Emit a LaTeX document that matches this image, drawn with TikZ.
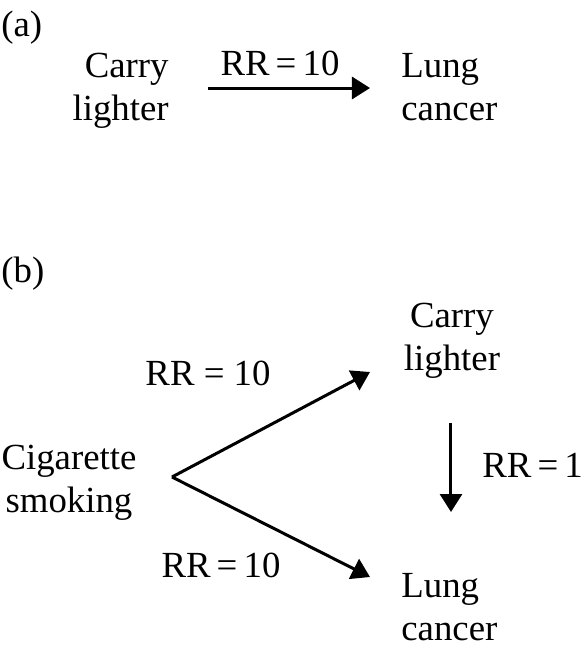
\documentclass[tikz,border=0pt]{standalone}
\usepackage{fontspec}
\setmainfont{Liberation Serif}
\usetikzlibrary{arrows.meta}
\begin{document}
\begin{tikzpicture}[x=0.5pt, y=-0.5pt,
    txt/.style={inner sep=0pt, font=\fontsize{18.4}{21.5}\selectfont},
    arr/.style={line width=1.5pt, -{Triangle[length=9pt, width=11pt]}}]
    \useasboundingbox (0,0) rectangle (588,650);

    % (a)
    \node[txt, anchor=base west] (LabA) at (1,36) {(a)};
    \node[txt, align=right, anchor=base east] (CarryA) at (169,120) {Carry\\lighter};
    \node[txt, align=left, anchor=base west] (CancerA) at (401,120) {Lung\\cancer};
    \coordinate (a1) at (208,88);
    \coordinate (a2) at (370,88);
    \draw[arr] (a1) -- (a2);
    \node[txt, anchor=base] (rrA) at (280,75) {RR\,=\,10};

    % (b)
    \node[txt, anchor=base west] (LabB) at (1,282) {(b)};
    \node[txt, align=center, anchor=base] (Smoke) at (69,512) {Cigarette\\smoking};
    \node[txt, align=center, anchor=base] (CarryB) at (452,370) {Carry\\lighter};
    \node[txt, align=left, anchor=base west] (CancerB) at (401,640) {Lung\\cancer};

    \coordinate (fork) at (172,477);
    \coordinate (up) at (370,372);
    \coordinate (down) at (370,577);
    \coordinate (v1) at (451,423);
    \coordinate (v2) at (451,512);
    \draw[arr] (fork) -- (up);
    \draw[arr] (fork) -- (down);
    \draw[arr] (v1) -- (v2);

    \node[txt, anchor=base] (rrUp) at (208,385) {RR = 10};
    \node[txt, anchor=base] (rrDown) at (221,577) {RR\,=\,10};
    \node[txt, anchor=base west] (rrV) at (482,477) {RR\,=\,1};
  \end{tikzpicture}
\end{document}
